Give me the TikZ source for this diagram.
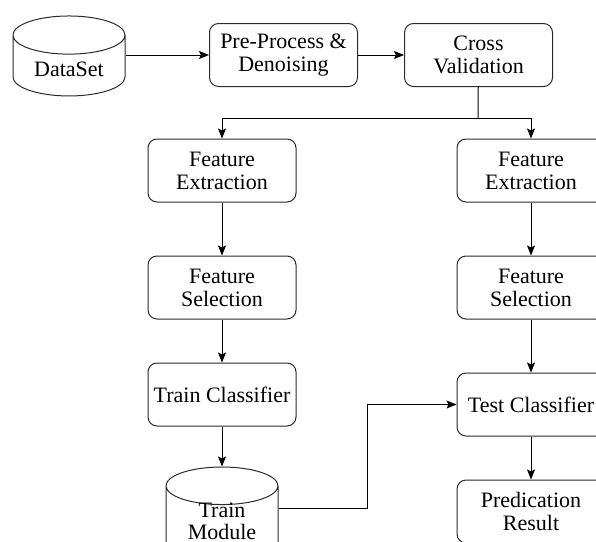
\documentclass[tikz,border=0pt]{standalone}
\usepackage{fontspec}
\setmainfont{Liberation Serif}
\usetikzlibrary{arrows.meta, positioning, shapes.geometric}
\definecolor{flowLine}{HTML}{2B2B2B}
% lift a two-line label inside a drum
\newcommand{\drumtext}[1]{\raisebox{6pt}[\height][\depth]{\begin{tabular}{@{}c@{}}#1\end{tabular}}}

\begin{document}
\begin{tikzpicture}[
  x=1pt, y=-1pt,
  procbox/.style={
    rectangle, rounded corners=9pt, draw=flowLine, fill=white,
    minimum width=148pt, minimum height=63pt,
    font=\fontsize{22}{23}\selectfont, align=center,
    line width=1pt,
  },
  dbase/.style={
    cylinder, shape border rotate=90, aspect=0.5, draw=flowLine, fill=white,
    minimum width=112pt, minimum height=80pt,
    font=\fontsize{22}{22}\selectfont, align=center,
    line width=1pt,
  },
  arrow/.style={-{Stealth[length=10pt, width=8pt, inset=2pt]}, line width=1pt, color=black},
]
\useasboundingbox (0,0) rectangle (596,541);

% Top row
\node[dbase] (data) at (69,69) {DataSet};
\node[procbox] (pre) at (283.5,55) {Pre-Process \&\\Denoising};
\node[procbox, right=46pt of pre] (cross) {Cross\\Validation};

% Training branch
\node[procbox] (featL) at (222,170.5) {Feature\\Extraction};
\node[procbox, below=53pt of featL] (selL) {Feature\\Selection};
\node[procbox, below=43pt of selL] (trainC) {Train Classifier};
\node[dbase, below=40pt of trainC] (model) {\drumtext{Train\\Module}};

% Testing branch
\node[procbox] (featR) at (531,170.5) {Feature\\Extraction};
\node[procbox, below=53pt of featR] (selR) {Feature\\Selection};
\node[procbox, below=53pt of selR] (testC) {Test Classifier};
\node[procbox, below=43pt of testC] (pred) {Predication\\Result};

\coordinate (split) at (478,118);
\coordinate (bend) at (367,508);

% Arrows -- top row
\draw[arrow] (data.east |- pre) -- (pre);
\draw[arrow] (pre) -- (cross);
\draw[line width=1pt] (cross) -- (split);
\draw[arrow] (split) -| (featL);
\draw[arrow] (split) -| (featR);

% Arrows -- columns
\draw[arrow] (featL) -- (selL);
\draw[arrow] (selL) -- (trainC);
\draw[arrow] (trainC) -- (model);
\draw[arrow] (featR) -- (selR);
\draw[arrow] (selR) -- (testC);
\draw[arrow] (testC) -- (pred);
\draw[arrow] (model.east |- bend) -- (bend) |- (testC);

\end{tikzpicture}
\end{document}
